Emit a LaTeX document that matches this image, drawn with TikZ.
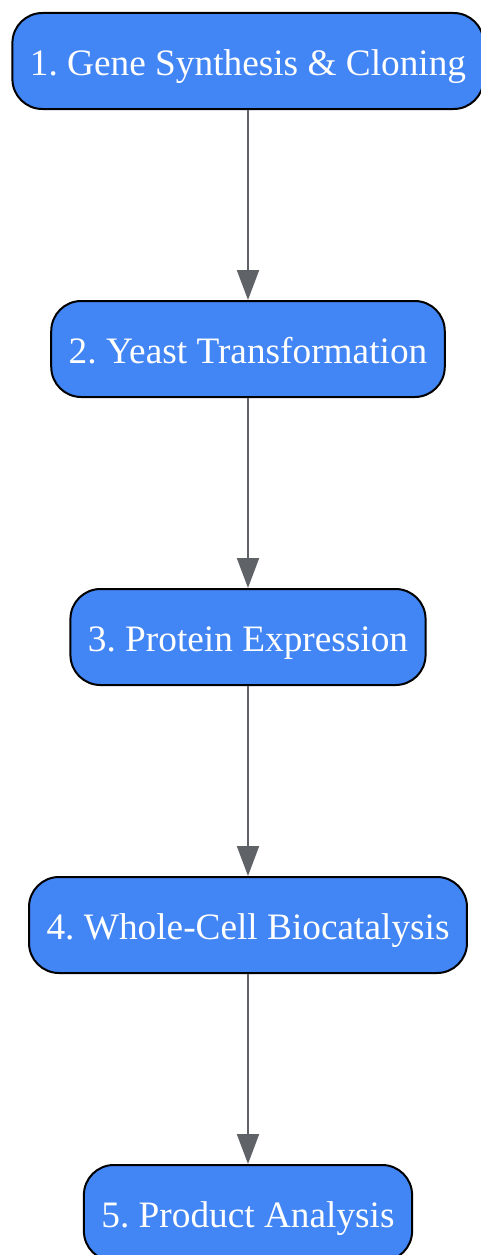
\documentclass[tikz,border=0pt]{standalone}
\usepackage{fontspec}
\setmainfont{Liberation Serif}
\usetikzlibrary{arrows.meta}
\definecolor{stepblue}{HTML}{4285F4}
\definecolor{flowgray}{HTML}{5F6368}

\begin{document}
\frenchspacing
\begin{tikzpicture}
	[x=1pt,y=1pt,
	stepbox/.style={shape=rectangle,rounded corners=30pt,draw=black,line width=2pt,
		fill=stepblue,text=white,inner xsep=17.5pt,inner ysep=0pt,minimum height=96pt,
		text height=28pt,text depth=0pt,font=\fontsize{37.3}{41}\selectfont},
	flow/.style={draw=flowgray,line width=2pt,-{Triangle[width=22pt,length=30pt]}}]
	\useasboundingbox (0,0) rectangle (481,-1255);
	\node[stepbox] (s1) at (248,-61) {1. Gene Synthesis \& Cloning};
	\node[stepbox] (s2) at (248,-349) {2. Yeast Transformation};
	\node[stepbox] (s3) at (248,-637) {3. Protein Expression};
	\node[stepbox] (s4) at (248,-925) {4. Whole-Cell Biocatalysis};
	\node[stepbox] (s5) at (248,-1213) {5. Product Analysis};
	\path
	\foreach \startNode/\endNode in {s1/s2, s2/s3, s3/s4, s4/s5}
	{
		(\startNode) edge[flow] (\endNode)
	};
\end{tikzpicture}
\end{document}
